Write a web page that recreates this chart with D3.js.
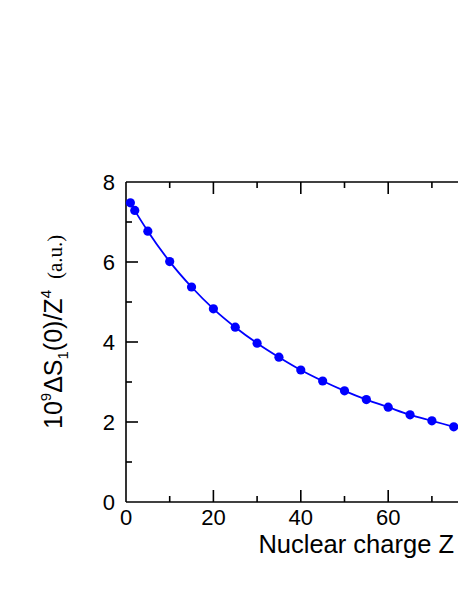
<!DOCTYPE html>
<html><head><meta charset="utf-8">
<script src="https://cdn.jsdelivr.net/npm/d3@7"></script>
<style>body{margin:0;background:#fff}svg{display:block}text{font-family:"Liberation Sans",Arial,sans-serif}</style>
</head><body>
<script>
const Z = [1, 2, 5, 10, 15, 20, 25, 30, 35, 40, 45, 50, 55, 60, 65, 70, 75];
const dS = [7.48, 7.29, 6.77, 6.01, 5.375, 4.83, 4.37, 3.97, 3.62, 3.30, 3.025, 2.78, 2.56, 2.37, 2.18, 2.03, 1.88];
const xMajor = [0, 20, 40, 60, 80];
const xLabels = [0, 20, 40, 60];
const xMinor = [10, 30, 50, 70];
const yMajor = [0, 2, 4, 6, 8];
const yMinor = [1, 3, 5, 7];

const W = 458, H = 592;
const svg = d3.select("body").append("svg").attr("width", W).attr("height", H);
const x = d3.scaleLinear().domain([0, 80]).range([126, 126 + 80 * 4.37]);
const y = d3.scaleLinear().domain([0, 8]).range([502, 182]);
const x0 = x(0), y0 = y(0), yT = y(8), xR = x(80);

const ax = svg.append("g").attr("stroke", "#000").attr("stroke-width", 1.6).attr("fill", "none");
ax.append("line").attr("x1", x0).attr("x2", xR).attr("y1", y0).attr("y2", y0);
ax.append("line").attr("x1", x0).attr("x2", xR).attr("y1", yT).attr("y2", yT);
ax.append("line").attr("x1", x0).attr("x2", x0).attr("y1", y0).attr("y2", yT);
const xt = (vals, len) => {
  vals.forEach(v => {
    ax.append("line").attr("x1", x(v)).attr("x2", x(v)).attr("y1", y0).attr("y2", y0 - len);
    ax.append("line").attr("x1", x(v)).attr("x2", x(v)).attr("y1", yT).attr("y2", yT + len);
  });
};
xt(xMajor.filter(v => v > 0), 12);
xt(xMinor, 6);
const yt = (vals, len) => {
  vals.forEach(v => {
    ax.append("line").attr("x1", x0).attr("x2", x0 + len).attr("y1", y(v)).attr("y2", y(v));
  });
};
yt(yMajor.filter(v => v > 0 && v < 8), 12);
yt(yMinor, 6);

svg.append("g").selectAll("text").data(xLabels).join("text")
  .attr("x", d => x(d)).attr("y", 525).attr("text-anchor", "middle")
  .attr("font-size", 22).text(d => d);
svg.append("g").selectAll("text").data(yMajor).join("text")
  .attr("x", 115).attr("y", d => y(d)).attr("dy", "0.36em").attr("text-anchor", "end")
  .attr("font-size", 22).text(d => d);

const line = d3.line().x((d, i) => x(Z[i])).y(d => y(d)).curve(d3.curveMonotoneX);
svg.append("path").datum(dS).attr("d", line).attr("fill", "none")
  .attr("stroke", "#0000ff").attr("stroke-width", 1.8);
svg.append("g").selectAll("circle").data(dS).join("circle")
  .attr("cx", (d, i) => x(Z[i])).attr("cy", d => y(d)).attr("r", 4.6).attr("fill", "#0000ff");

svg.append("text").attr("x", 454).attr("y", 553).attr("text-anchor", "end")
  .attr("font-size", 25.5).text("Nuclear charge Z");

const yl = svg.append("text").attr("transform", "translate(62,429) rotate(-90)")
  .attr("font-size", 25);
yl.append("tspan").text("10");
yl.append("tspan").attr("font-size", 15).attr("dy", -11).text("9");
yl.append("tspan").attr("dy", 11).text("ΔS");
yl.append("tspan").attr("font-size", 15).attr("dy", 6).text("1");
yl.append("tspan").attr("dy", -6).text("(0)/Z");
yl.append("tspan").attr("font-size", 15).attr("dy", -11).text("4");
yl.append("tspan").attr("dy", 11).attr("dx", 11).attr("font-size", 21)
  .attr("font-family", "'Liberation Serif','Times New Roman',serif").text("(a.u.)");
</script>
</body></html>
